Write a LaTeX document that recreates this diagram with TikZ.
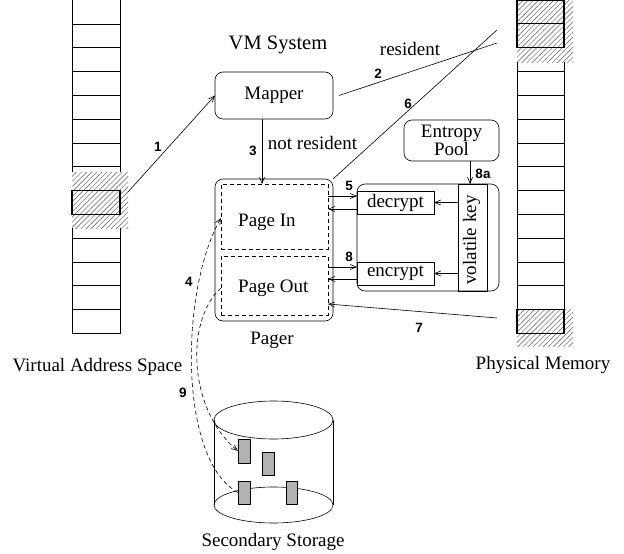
\documentclass[tikz,border=0pt]{standalone}
\usepackage{fontspec}
\setmainfont{Liberation Serif}
\newfontfamily\numfont{Liberation Sans}
\usetikzlibrary{arrows.meta,patterns.meta,calc}
\newcommand\mytf{\fontsize{19}{19}\selectfont}
\begin{document}
\begin{tikzpicture}[x=1pt,y=-1pt,
  ln/.style={line width=0.6pt},
  arr/.style={ln,-{Straight Barb[length=6pt,width=5pt]}},
  rbox/.style={draw,ln,rounded corners=8pt,inner sep=0pt,outer sep=0pt},
  sbox/.style={draw,ln,inner sep=0pt,outer sep=0pt},
  dbox/.style={draw,ln,dash pattern=on 4pt off 3pt,inner sep=0pt,outer sep=0pt},
  dcurve/.style={ln,dash pattern=on 4pt off 3pt},
  lbl/.style={font=\mytf,inner sep=0pt,anchor=base},
  num/.style={font=\numfont\bfseries\fontsize{13.5}{13.5}\selectfont,inner sep=0pt,anchor=base},
  hatch/.style={pattern={Lines[angle=45,distance=3.6pt,line width=0.45pt]},pattern color=black!65},
  page/.style={draw,line width=1.2pt},
  blk/.style={draw,ln,fill=black!30,inner sep=0pt,outer sep=0pt}]
\useasboundingbox (0,0) rectangle (624,554);
% virtual address space column
\draw[ln] (72,-1) rectangle (120,333.2);
\foreach \k in {1,...,13} \draw[ln] (72,{23.8*\k}) -- (120,{23.8*\k});
\fill[white] (72,172) rectangle (128,228);
\fill[hatch] (72,172) rectangle (128,228);
\draw[page] (72,190.4) rectangle (120,214.2);
% physical memory column
\draw[ln] (517,-1) rectangle (564,333.2);
\foreach \k in {1,...,13} \draw[ln] (517,{23.8*\k}) -- (564,{23.8*\k});
\fill[white] (517,-1) rectangle (573,62);
\fill[hatch] (517,-1) rectangle (573,62);
\draw[page] (517,0.8) rectangle (564,23.8);
\draw[page] (517,23.8) rectangle (564,47.6);
\fill[white] (517,309.4) rectangle (573,346);
\fill[hatch] (517,309.4) rectangle (573,346);
\draw[page] (517,309.4) rectangle (564,333.2);
% boxes
\node[rbox,minimum width=118pt,minimum height=47pt,font=\mytf] (mapper) at (274,95.5) {Mapper};
\node[rbox,minimum width=118pt,minimum height=142pt] (pager) at (274,250) {};
\node[dbox,minimum width=107pt,minimum height=65pt] (pagein) at (274.5,216.5) {};
\node[dbox,minimum width=107pt,minimum height=59pt] (pageout) at (274.5,285.5) {};
\node[lbl,anchor=base west] (tpin) at (238,226) {Page In};
\node[lbl,anchor=base west] (tpout) at (238,292) {Page Out};
\node[rbox,minimum width=142pt,minimum height=107pt] (crypto) at (428,237.5) {};
\node[sbox,minimum width=77pt,minimum height=23pt,font=\mytf] (decrypt) at (395.5,202.5) {decrypt};
\node[sbox,minimum width=77pt,minimum height=23pt,font=\mytf] (encrypt) at (395.5,273.5) {encrypt};
\node[sbox,minimum width=29pt,minimum height=107pt] (key) at (472.5,237.5) {};
\node[font=\mytf,rotate=90,inner sep=0pt] (tkey) at (471.5,240) {volatile key};
\node[rbox,minimum width=95pt,minimum height=41pt,align=center,font=\fontsize{19}{16}\selectfont] (entropy) at (451.5,140.5) {Entropy\\Pool};
% texts
\node[lbl,font=\fontsize{20.5}{20.5}\selectfont] (tvm) at (278,49) {VM System};
\node[lbl] (tres) at (410,55) {resident};
\node[lbl] (tnr) at (312.5,149) {not resident};
\node[lbl] (tpager) at (272,344) {Pager};
\node[lbl] (tvas) at (97.5,371) {Virtual Address Space};
\node[lbl] (tpm) at (543,369) {Physical Memory};
\node[lbl] (tss) at (273,546) {Secondary Storage};
% numbers
\node[num] (n1) at (158,151) {1};
\node[num] (n2) at (378,78) {2};
\node[num] (n3) at (253,155) {3};
\node[num] (n4) at (189,286) {4};
\node[num] (n5) at (349,190.5) {5};
\node[num] (n6) at (408,108) {6};
\node[num] (n7) at (419,332.5) {7};
\node[num] (n8) at (349,261.5) {8};
\node[num] (n8a) at (483,178) {8a};
\node[num] (n9) at (183,397.5) {9};
% connectors
\coordinate (s1) at (128,192);
\coordinate (e2) at (497,43);
\coordinate (e6) at (497,30);
\coordinate (e7) at (497,318);
\draw[arr] (s1) -- (mapper.west);
\draw[ln] ([xshift=6pt]mapper.east) -- (e2);
\draw[ln] (pager.north east) -- (e6);
\coordinate (m3) at ([xshift=-12pt]mapper.south);
\draw[arr] (m3) -- (m3 |- pagein.north);
\coordinate (p5a) at ([yshift=20.5pt]pagein.east);
\coordinate (p5b) at ([yshift=7.5pt]pagein.east);
\draw[arr] (p5a) -- (p5a -| crypto.west);
\draw[arr] (p5b -| crypto.west) -- (p5b);
\coordinate (p8a) at ([yshift=18.5pt]pageout.east);
\coordinate (p8b) at ([yshift=6.5pt]pageout.east);
\draw[arr] (p8a) -- (p8a -| crypto.west);
\draw[arr] (p8b -| crypto.west) -- (p8b);
\draw[arr] (key.west |- decrypt.east) -- (decrypt.east);
\draw[arr] (key.west |- encrypt.east) -- (encrypt.east);
\coordinate (k8) at ([xshift=18.5pt]entropy.south);
\draw[arr] (k8) -- (k8 |- key.north);
\coordinate (p7) at ([yshift=-18.5pt]pageout.east);
\draw[arr] (e7) -- (p7);
% secondary storage cylinder
\draw[ln] (273.5,420) ellipse [x radius=59.5pt,y radius=19pt];
\draw[ln] (214,420) -- (214,505);
\draw[ln] (333,420) -- (333,505);
\draw[ln] (273.5,505) ellipse [x radius=59.5pt,y radius=18pt];
\node[blk,minimum width=12pt,minimum height=24pt] (r1) at (244,451) {};
\node[blk,minimum width=12pt,minimum height=23pt] (r2) at (268,463.5) {};
\node[blk,minimum width=12pt,minimum height=23pt] (r3) at (244,492.5) {};
\node[blk,minimum width=11pt,minimum height=23pt] (r4) at (291.5,492.5) {};
% dashed transfers
\draw[dcurve,-{Straight Barb[length=6pt,width=5pt]}] (r3.west) .. controls (178,460) and (180,290) .. ([yshift=-1.5pt]pagein.west);
\draw[dcurve,-{Straight Barb[length=6pt,width=5pt]}] ([yshift=-2.5pt]pageout.west) .. controls (185,320) and (188,410) .. (r1.west);
\end{tikzpicture}
\end{document}
